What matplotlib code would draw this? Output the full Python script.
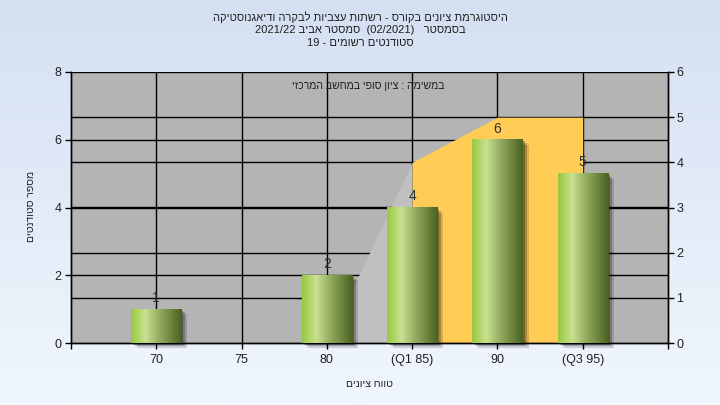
import re
import numpy as np
import matplotlib
matplotlib.use("Agg")
import matplotlib.pyplot as plt
import matplotlib.transforms as mtransforms
from matplotlib.colors import LinearSegmentedColormap

plt.rcParams['font.family'] = ['Liberation Sans', 'DejaVu Sans']

# ---- data ----
categories = ["70", "75", "80", "(Q1 85)", "90", "(Q3 95)"]
counts = [1, 0, 2, 4, 6, 5]
# right-axis area series (lower range and interquartile range)
low_area_idx = [2, 3]
low_area_vals = [0, 4]
iqr_area_idx = [3, 4, 5]
iqr_area_vals = [4, 5, 5]
left_ticks = [0, 2, 4, 6, 8]
right_ticks = [0, 1, 2, 3, 4, 5, 6]

title_lines = [
    "היסטוגרמת ציונים בקורס - רשתות עצביות לבקרה ודיאגנוסטיקה",
    "בסמסטר   (02/2021)  סמסטר אביב 2021/22",
    "סטודנטים רשומים - 19",
]
note_text = "במשימה : ציון סופי במחשב המרכזי"
xlabel_text = "טווח ציונים"
ylabel_text = "מספר סטודנטים"


def rtl(s):
    """Simple visual reordering for a right-to-left line (matplotlib has no bidi)."""
    r = s[::-1]
    r = re.sub(r'[0-9A-Za-z][0-9A-Za-z/.,]*[0-9A-Za-z]|[0-9A-Za-z]',
               lambda m: m.group(0)[::-1], r)
    return r.translate(str.maketrans('()', ')('))


fig = plt.figure(figsize=(7.2, 4.05), dpi=100)

# background gradient
bg = fig.add_axes([0, 0, 1, 1], zorder=-10)
top = np.array([212, 224, 242]) / 255
bot = np.array([240, 246, 253]) / 255
t = np.linspace(0, 1, 256)[:, None]
grad = top[None, :] * (1 - t) + bot[None, :] * t
bg.imshow(grad[:, None, :], aspect='auto', extent=[0, 1, 0, 1])
bg.axis('off')

L, R, B, T = 71 / 720, 668 / 720, 1 - 343 / 405, 1 - 72 / 405
ax = fig.add_axes([L, B, R - L, T - B])
ax2 = ax.twinx()
ax.set_zorder(2)
ax2.set_zorder(1)
ax.patch.set_visible(False)
ax2.patch.set_visible(True)
ax2.patch.set_facecolor('#b4b4b4')

x = np.arange(1, len(categories) + 1)
ax.set_xlim(0, len(categories) + 1)
ax.set_ylim(0, 8)
ax2.set_ylim(0, 6)

# gridlines (behind areas) drawn on ax2
ax2.hlines(right_ticks[1:-1], 0, 1, transform=ax2.get_yaxis_transform(),
           colors='black', lw=1, zorder=1)
ax2.hlines(left_ticks[1:], 0, 1, transform=ax.get_yaxis_transform(),
           colors='black', lw=1, zorder=1)
ax2.vlines(x, 0, 1, transform=ax2.get_xaxis_transform(),
           colors='black', lw=1, zorder=1)

# areas (right axis)
ax2.fill_between([x[i] for i in low_area_idx], 0, low_area_vals,
                 color='#c0c0c0', lw=0, zorder=2)
ax2.fill_between([x[i] for i in iqr_area_idx], 0, iqr_area_vals,
                 color='#ffcc55', lw=0, zorder=2)

# gradient bars
cmap = LinearSegmentedColormap.from_list('cyl', [
    (0.0, '#98c840'), (0.28, '#c8e290'), (0.55, '#94ac60'), (1.0, '#4a6222')])
gimg = cmap(np.linspace(0, 1, 200))[None, :, :]
bw = 0.59
for xi, c in zip(x, counts):
    if c <= 0:
        continue
    for k, a in [(2, 0.28), (4, 0.22), (6, 0.15)]:
        off = mtransforms.offset_copy(ax.transData, fig=fig, x=k * 0.72, y=-k * 0.6, units='points')
        ax.add_patch(plt.Rectangle((xi - bw / 2, 0), bw, c, facecolor='black', alpha=a,
                                   lw=0, transform=off, zorder=2, clip_on=False))
    ax.imshow(gimg, extent=[xi - bw / 2, xi + bw / 2, 0, c], aspect='auto',
              zorder=3, interpolation='bilinear')
    ax.annotate(str(c), (xi, c), xytext=(0, 3), textcoords='offset points',
                ha='center', va='bottom', fontsize=10, color='#303030', zorder=4)

ax.set_xlim(0, len(categories) + 1)
ax.set_ylim(0, 8)

# axes styling
for a_ in (ax, ax2):
    a_.spines['top'].set_visible(False)
    for s in ('left', 'right', 'bottom'):
        a_.spines[s].set_color('black')
        a_.spines[s].set_linewidth(1)

ax.set_yticks(left_ticks)
ax2.set_yticks(right_ticks)
ax.set_xticks(x)
ax.set_xticklabels(categories)
ax.set_xticks([0, len(categories) + 1], minor=True)
ax.tick_params(axis='both', which='both', direction='out', length=4, width=1,
               colors='black', labelcolor='#202020', labelsize=9, pad=3)
ax.tick_params(axis='x', which='major', pad=4)
ax2.tick_params(axis='y', direction='out', length=4, width=1, colors='black',
                labelcolor='#202020', labelsize=9, pad=2)

ax.set_xlabel(rtl(xlabel_text), fontsize=7.5, color='#202020', labelpad=9)
fig.text(31 / 720, 1 - 206 / 405, rtl(ylabel_text), rotation=90, fontsize=7.5,
         color='#202020', ha='center', va='center')

for i, line in enumerate(title_lines):
    fig.text(0.5, 1 - (17 + 13 * i) / 405, rtl(line), ha='center', va='center',
             fontsize=8, color='#202020')

fig.text(368 / 720, 1 - 86 / 405, rtl(note_text), ha='center', va='center',
         fontsize=7.6, color='#202020', zorder=5)

fig.savefig('out.png', dpi=100)
